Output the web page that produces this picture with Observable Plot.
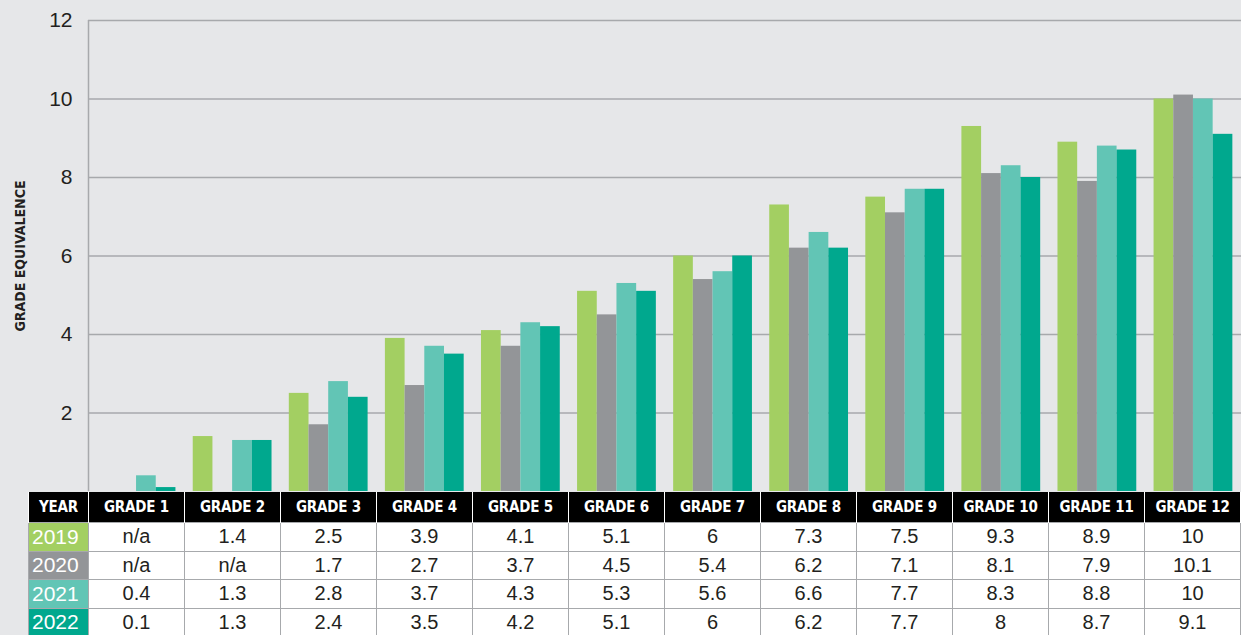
<!DOCTYPE html>
<html>
<head>
<meta charset="utf-8">
<script src="https://cdn.jsdelivr.net/npm/d3@7"></script>
<script src="https://cdn.jsdelivr.net/npm/@observablehq/plot@0.6"></script>
<style>
  html, body { margin: 0; padding: 0; background: #e6e7e9; overflow: hidden; }
  #chart svg { display: block; }
  table { border-collapse: collapse; margin-left: 28px; table-layout: fixed; width: 1212px; }
  th { background: #000; color: #fff; font-family: "Liberation Sans Narrow", "DejaVu Sans Condensed", sans-serif; font-stretch: condensed; font-weight: bold; font-size: 15px; letter-spacing: -0.2px; height: 30px; padding: 0; border-left: 1.5px solid #fff; border-right: 1.5px solid #fff; }
  td { background: #fff; color: #231f20; font-family: "Liberation Sans", Arial, sans-serif; font-size: 20px; text-align: center; height: 27.5px; padding: 0; border: 1.5px solid #a7a9ac; }
  td.yr { color: #fff; text-align: left; padding-left: 3px; font-size: 21px; }
</style>
</head>
<body>
<div id="chart"></div>
<div id="table"></div>
<script>
const grades = ["GRADE 1","GRADE 2","GRADE 3","GRADE 4","GRADE 5","GRADE 6","GRADE 7","GRADE 8","GRADE 9","GRADE 10","GRADE 11","GRADE 12"];
const years = ["2019","2020","2021","2022"];
const colors = ["#a3cf62","#939598","#62c5b5","#00a88e"];
const v2019 = [null, 1.4, 2.5, 3.9, 4.1, 5.1, 6, 7.3, 7.5, 9.3, 8.9, 10];
const v2020 = [null, null, 1.7, 2.7, 3.7, 4.5, 5.4, 6.2, 7.1, 8.1, 7.9, 10.1];
const v2021 = [0.4, 1.3, 2.8, 3.7, 4.3, 5.3, 5.6, 6.6, 7.7, 8.3, 8.8, 10];
const v2022 = [0.1, 1.3, 2.4, 3.5, 4.2, 5.1, 6, 6.2, 7.7, 8, 8.7, 9.1];
const yTicks = [2, 4, 6, 8, 10, 12];
const yLabel = "GRADE EQUIVALENCE";

const series = [v2019, v2020, v2021, v2022];
const data = [];
series.forEach((vals, yi) => vals.forEach((v, gi) => {
  if (v != null) data.push({grade: grades[gi], gi: gi + 1, year: years[yi], yi, value: v});
}));

const barW = 0.205;
const chart = Plot.plot({
  width: 1241,
  height: 492,
  marginLeft: 88,
  marginRight: 0,
  marginTop: 20,
  marginBottom: 1,
  style: {background: "#e6e7e9", fontFamily: "Liberation Sans, Arial, sans-serif"},
  x: {type: "linear", domain: [0.5, 12.5], axis: null},
  y: {domain: [0, 12], axis: null},
  color: {domain: years, range: colors},
  marks: [
    Plot.ruleY(yTicks, {stroke: "#a7a9ac", strokeWidth: 1.5}),
    Plot.ruleX([0.5], {y1: 0, y2: 12, stroke: "#a7a9ac", strokeWidth: 1.5}),
    Plot.rectY(data, {
      x1: d => d.gi - 2 * barW + d.yi * barW,
      x2: d => d.gi - 2 * barW + (d.yi + 1) * barW,
      y: "value",
      fill: "year"
    }),
    Plot.text(yTicks, {x: 0.5, y: d => d, dx: -16, textAnchor: "end", fontSize: 21, fill: "#231f20"}),
    Plot.text([yLabel], {frameAnchor: "left", textAnchor: "middle", dx: -68, rotate: -90, fontSize: 14, fontWeight: "bold", fontFamily: "Liberation Sans Narrow, DejaVu Sans Condensed, sans-serif", fill: "#231f20"})
  ]
});
document.getElementById("chart").appendChild(chart);

// table
const table = document.createElement("table");
const colg = document.createElement("colgroup");
const c0 = document.createElement("col"); c0.style.width = "60px"; colg.appendChild(c0);
grades.forEach(() => { const c = document.createElement("col"); c.style.width = "96px"; colg.appendChild(c); });
table.appendChild(colg);
const hr = document.createElement("tr");
["YEAR", ...grades].forEach(t => { const th = document.createElement("th"); th.textContent = t; hr.appendChild(th); });
table.appendChild(hr);
series.forEach((vals, yi) => {
  const tr = document.createElement("tr");
  const td0 = document.createElement("td"); td0.className = "yr"; td0.textContent = years[yi]; td0.style.background = colors[yi]; tr.appendChild(td0);
  vals.forEach(v => { const td = document.createElement("td"); td.textContent = v == null ? "n/a" : String(v); tr.appendChild(td); });
  table.appendChild(tr);
});
document.getElementById("table").appendChild(table);
</script>
</body>
</html>
